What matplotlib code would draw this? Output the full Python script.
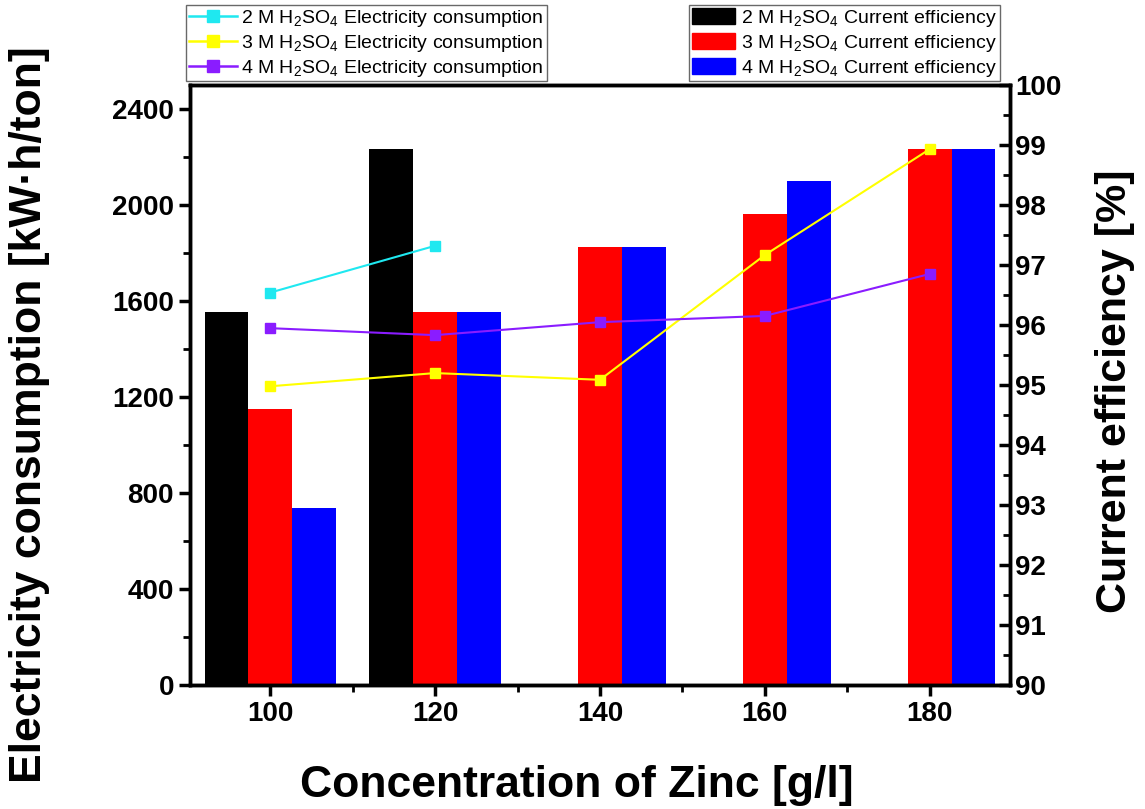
import numpy as np
import matplotlib
matplotlib.use('Agg')
from matplotlib import pyplot as plt
from matplotlib.ticker import MultipleLocator
from matplotlib.lines import Line2D
from matplotlib.patches import Patch

plt.rcParams['font.family'] = ['Liberation Sans', 'DejaVu Sans']
plt.rcParams['mathtext.fontset'] = 'custom'
plt.rcParams['mathtext.rm'] = 'Liberation Sans'

# concentration of zinc [g/l]
conc = [100, 120, 140, 160, 180]

# current efficiency [%] (bars, right axis); None = no bar
ce_2m = [96.22, 98.93, None, None, None]
ce_3m = [94.6, 96.22, 97.3, 97.85, 98.93]
ce_4m = [92.95, 96.22, 97.3, 98.4, 98.93]

# electricity consumption [kW.h/ton] (lines, left axis)
ec_2m_x = [100, 120]
ec_2m = [1635, 1830]
ec_3m = [1245, 1300, 1272, 1792, 2233]
ec_4m = [1487, 1458, 1512, 1538, 1713]

fig = plt.figure(figsize=(11.45, 8.09), dpi=100)
ax = fig.add_axes([0.166, 0.153, 0.716, 0.742])
ax2 = ax.twinx()

w = 5.3
for vals, off, col in [(ce_2m, -w, 'black'), (ce_3m, 0, 'red'), (ce_4m, w, 'blue')]:
    xs = [c + off for c, v in zip(conc, vals) if v is not None]
    hs = [v - 90 for v in vals if v is not None]
    ax2.bar(xs, hs, width=w, bottom=90, color=col, linewidth=0)

ax.set_zorder(ax2.get_zorder() + 1)
ax.patch.set_visible(False)

ax.plot(ec_2m_x, ec_2m, color='#1fe8f0', marker='s', markersize=7, lw=1.5)
ax.plot(conc, ec_3m, color='#ffff00', marker='s', markersize=7, lw=1.5)
ax.plot(conc, ec_4m, color='#8a1cff', marker='s', markersize=7, lw=1.5)

ax.set_xlim(90.3, 189.7)
ax.set_ylim(0, 2500)
ax2.set_ylim(90, 100)

ax.set_xticks(conc)
ax.xaxis.set_minor_locator(MultipleLocator(10))
ax.yaxis.set_major_locator(MultipleLocator(400))
ax.yaxis.set_minor_locator(MultipleLocator(200))
ax2.yaxis.set_major_locator(MultipleLocator(1))
ax2.yaxis.set_minor_locator(MultipleLocator(0.5))

for a in (ax, ax2):
    for s in a.spines.values():
        s.set_linewidth(2.5)
ax.tick_params(axis='both', which='major', labelsize=20, width=2.5, length=8, direction='out')
ax.tick_params(axis='both', which='minor', width=2, length=5, direction='out')
ax2.tick_params(axis='y', which='major', labelsize=20, width=2.5, length=8, direction='in')
ax2.tick_params(axis='y', which='minor', width=2, length=5, direction='in')
for lab in ax.get_xticklabels() + ax.get_yticklabels() + ax2.get_yticklabels():
    lab.set_fontweight('bold')

ax.set_xlabel('Concentration of Zinc [g/l]', fontsize=32, fontweight='bold')
ax.xaxis.set_label_coords(0.472, -0.133)
ax.set_ylabel('Electricity consumption [kW·h/ton]', fontsize=32, fontweight='bold')
ax.yaxis.set_label_coords(-0.171, 0.45)
ax2.set_ylabel('Current efficiency [%]', fontsize=31, fontweight='bold')
ax2.yaxis.set_label_coords(1.104, 0.49)

acid = ['2 M H$_2$SO$_4$', '3 M H$_2$SO$_4$', '4 M H$_2$SO$_4$']
lh = [Line2D([], [], color=c, marker='s', markersize=8, lw=1.8)
      for c in ['#1fe8f0', '#ffff00', '#8a1cff']]
fig.legend(lh, [a + ' Electricity consumption' for a in acid],
           loc='upper left', bbox_to_anchor=(0.1624, 0.994), fontsize=14,
           frameon=True, fancybox=False, edgecolor='#444444', borderpad=0.15,
           labelspacing=0.2, handlelength=2.5, handletextpad=0.2, borderaxespad=0)
bh = [Patch(color=c) for c in ['black', 'red', 'blue']]
fig.legend(bh, [a + ' Current efficiency' for a in acid],
           loc='upper right', bbox_to_anchor=(0.873, 0.994), fontsize=14,
           frameon=True, fancybox=False, edgecolor='#444444', borderpad=0.15,
           labelspacing=0.2, handlelength=2.2, handleheight=0.9, handletextpad=0.3, borderaxespad=0)

fig.savefig('out.png', dpi=100)
